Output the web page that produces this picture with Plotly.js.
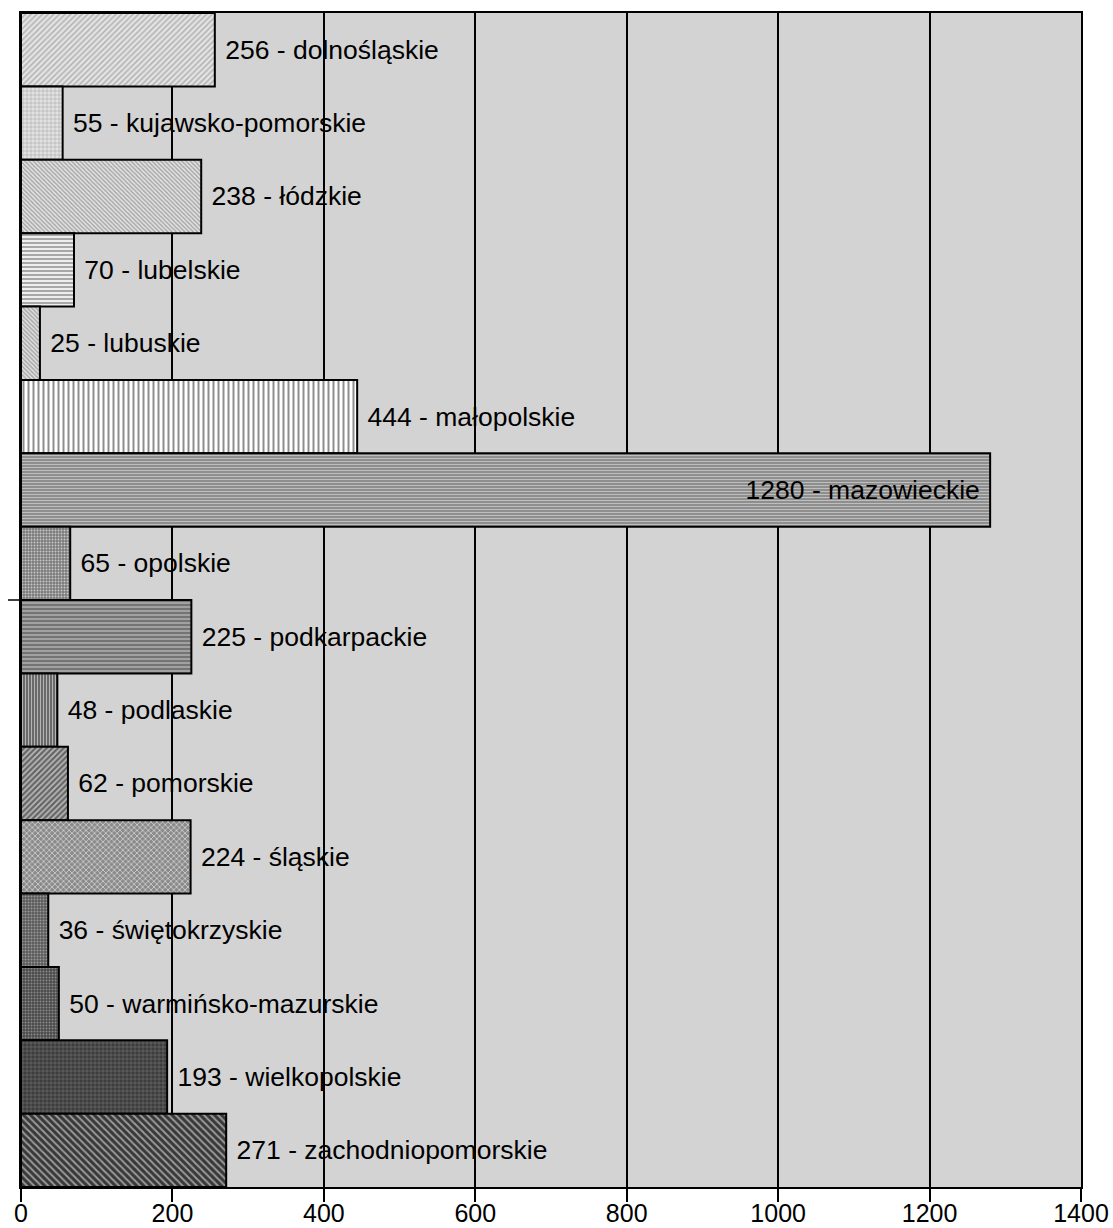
<!DOCTYPE html>
<html>
<head>
<meta charset="utf-8">
<script src="https://cdn.plot.ly/plotly-3.0.1.min.js"></script>
<style>html,body{margin:0;padding:0;background:#fff;}#chart{width:1113px;height:1228px;}</style>
</head>
<body>
<div id="chart"></div>
<script>
const categories = ["dolnośląskie","kujawsko-pomorskie","łódzkie","lubelskie","lubuskie","małopolskie","mazowieckie","opolskie","podkarpackie","podlaskie","pomorskie","śląskie","świętokrzyskie","warmińsko-mazurskie","wielkopolskie","zachodniopomorskie"];
const values = [256,55,238,70,25,444,1280,65,225,48,62,224,36,50,193,271];
const xTicks = [0,200,400,600,800,1000,1200,1400];

const patShapes = ["/","+","\\","-","\\","|","-",".","-","|","/","x",".",".","+","\\"];
const patBg = ["#e4e4e4","#e2e2e2","#e6e6e6","#eeeeee","#e2e2e2","#ffffff","#8e8e8e","#7a7a7a","#747474","#6a6a6a","#666666","#8a8a8a","#5a5a5a","#4a4a4a","#3c3c3c","#383838"];
const patFg = ["#b4b4b4","#a4a4a4","#a8a8a8","#a0a0a0","#a8a8a8","#8e8e8e","#c4c4c4","#c8c8c8","#b4b4b4","#b4b4b4","#bcbcbc","#cccccc","#9a9a9a","#8a8a8a","#767676","#9a9a9a"];
const patSize = [4,4,3,4,3,5,3,3,4,3,4,4,3,3,4,5];
const patSolid = [0.4,0.25,0.5,0.45,0.5,0.4,0.3,0.35,0.35,0.35,0.4,0.4,0.35,0.35,0.25,0.4];

const NB = "\u00a0";
const texts = values.map((v,i)=> v === 1280 ? (v + " - " + categories[i] + NB) : (NB + v + " - " + categories[i]));
const positions = values.map(v => v === 1280 ? "inside" : "outside");

const FONT = "Liberation Sans, Arial, sans-serif";

const trace = {
  type: "bar",
  orientation: "h",
  x: values,
  y: categories,
  text: texts,
  textinfo: "text",
  textposition: positions,
  insidetextanchor: "end",
  constraintext: "none",
  cliponaxis: false,
  textfont: {family: FONT, size: 26.5, color: "#000"},
  insidetextfont: {family: FONT, size: 26.5, color: "#000"},
  outsidetextfont: {family: FONT, size: 26.5, color: "#000"},
  hoverinfo: "none",
  marker: {
    color: "#999999",
    line: {color: "#000", width: 2},
    pattern: {
      shape: patShapes,
      bgcolor: patBg,
      fgcolor: patFg,
      fgopacity: 1,
      size: patSize,
      solidity: patSolid,
      fillmode: "replace"
    }
  }
};

const layout = {
  width: 1113,
  height: 1228,
  margin: {l: 21, r: 32, t: 13, b: 41, pad: 0},
  paper_bgcolor: "#ffffff",
  plot_bgcolor: "#d3d3d3",
  bargap: 0,
  showlegend: false,
  font: {family: FONT, color: "#000"},
  xaxis: {
    range: [0, 1400],
    tickvals: xTicks,
    ticktext: xTicks.map(String),
    showgrid: true,
    gridcolor: "#000",
    gridwidth: 2,
    zeroline: false,
    showline: true,
    linecolor: "#000",
    linewidth: 2,
    mirror: true,
    ticks: "outside",
    ticklen: 13,
    tickwidth: 2,
    tickcolor: "#000",
    ticklabelstandoff: -10,
    tickfont: {size: 25, color: "#000", family: FONT},
    fixedrange: true
  },
  yaxis: {
    autorange: "reversed",
    showticklabels: false,
    ticks: "",
    showgrid: false,
    zeroline: false,
    showline: true,
    linecolor: "#000",
    linewidth: 2,
    mirror: true,
    fixedrange: true
  },
  shapes: [
    {type: "line", xref: "paper", yref: "paper", x0: -0.0123, x1: 0, y0: 0.5, y1: 0.5, line: {color: "#000", width: 1.5}}
  ]
};

Plotly.newPlot("chart", [trace], layout, {displayModeBar: false, staticPlot: true});
</script>
</body>
</html>
